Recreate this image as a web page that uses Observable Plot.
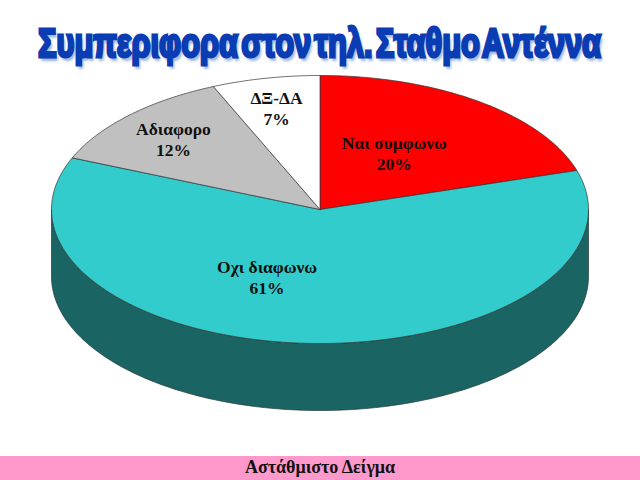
<!DOCTYPE html>
<html lang="el">
<head>
<meta charset="utf-8">
<script src="https://cdn.jsdelivr.net/npm/d3@7"></script>
<script src="https://cdn.jsdelivr.net/npm/@observablehq/plot@0.6"></script>
<style>
  html, body { margin: 0; padding: 0; background: #fff; width: 640px; height: 480px; overflow: hidden; }
  #title { height: 70px; position: relative; overflow: hidden; }
  #title span {
    position: absolute; left: 0; top: 19px; white-space: nowrap;
    font: bold 40px/48px "Liberation Sans", sans-serif;
    word-spacing: -7px;
    color: #0a3cb4; -webkit-text-stroke: 3px #0a3cb4;
    text-shadow: 3px 4px 3px #9db4d8;
    transform-origin: 0 0;
  }
  #chart svg { display: block; }
  #caption {
    height: 24px; background: #ff99cc; text-align: center;
    font: bold 18px/22px "Liberation Serif", serif; color: #111;
  }
</style>
</head>
<body>
<div id="title"><span id="titleText">Συμπεριφορα στον τηλ. Σταθμο Αντέννα</span></div>
<div id="chart"></div>
<div id="caption">Αστάθμιστο Δείγμα</div>
<script>
const categories = ["Ναι συμφωνω", "Οχι διαφωνω", "Αδιαφορο", "ΔΞ-ΔΑ"];
const shares = [20.3, 61.0, 12.2, 6.5];
const percentLabels = ["20%", "61%", "12%", "7%"];
const sliceColors = ["#ff0000", "#33cccc", "#c0c0c0", "#ffffff"];
const sideColor = "#1a6464";
const labelX = [0.277, -0.197, -0.546, -0.162];
const labelY = [0.426, -0.499, 0.530, 0.762];
const thickness = 0.5;

// Fit the title to the reference's condensed width.
const titleEl = document.getElementById("titleText");
const titleWidth = titleEl.getBoundingClientRect().width;
titleEl.style.transform = `translateX(38px) scaleX(${563 / titleWidth})`;

const total = d3.sum(shares);
const point = (deg) => [Math.sin(deg * Math.PI / 180), Math.cos(deg * Math.PI / 180)];

let start = 0;
const slicePoints = [];
categories.forEach((name, i) => {
  const end = start + shares[i] / total * 360;
  slicePoints.push({name, x: 0, y: 0});
  for (let a = start; a < end; a += 1) {
    const [x, y] = point(a);
    slicePoints.push({name, x, y});
  }
  const [ex, ey] = point(end);
  slicePoints.push({name, x: ex, y: ey}, {name, x: 0, y: 0});
  start = end;
});

const sidePoints = [];
for (let a = 90; a <= 270; a += 1) {
  const [x, y] = point(a);
  sidePoints.push({x, y});
}
for (let a = 270; a >= 90; a -= 1) {
  const [x, y] = point(a);
  sidePoints.push({x, y: y - thickness});
}
sidePoints.push(sidePoints[0]);

const labels = categories.map((name, i) => ({
  text: name + "\n" + percentLabels[i], x: labelX[i], y: labelY[i]
}));

const chart = Plot.plot({
  width: 640,
  height: 386,
  margin: 0,
  style: {background: "transparent"},
  x: {domain: [-1, 1], range: [51, 588], axis: null},
  y: {domain: [1, -1], range: [5, 273], axis: null},
  color: {domain: categories, range: sliceColors},
  marks: [
    Plot.line(sidePoints, {x: "x", y: "y", fill: sideColor, stroke: "#2a3a3a", strokeWidth: 0.7}),
    Plot.line(slicePoints, {x: "x", y: "y", z: "name", fill: "name", stroke: "#333", strokeWidth: 0.7}),
    Plot.text(labels, {
      x: "x", y: "y", text: "text",
      fontFamily: "Liberation Serif", fontWeight: "bold", fontSize: 17.5,
      lineHeight: 1.2, fill: "#111"
    })
  ]
});
document.getElementById("chart").append(chart);
</script>
</body>
</html>
